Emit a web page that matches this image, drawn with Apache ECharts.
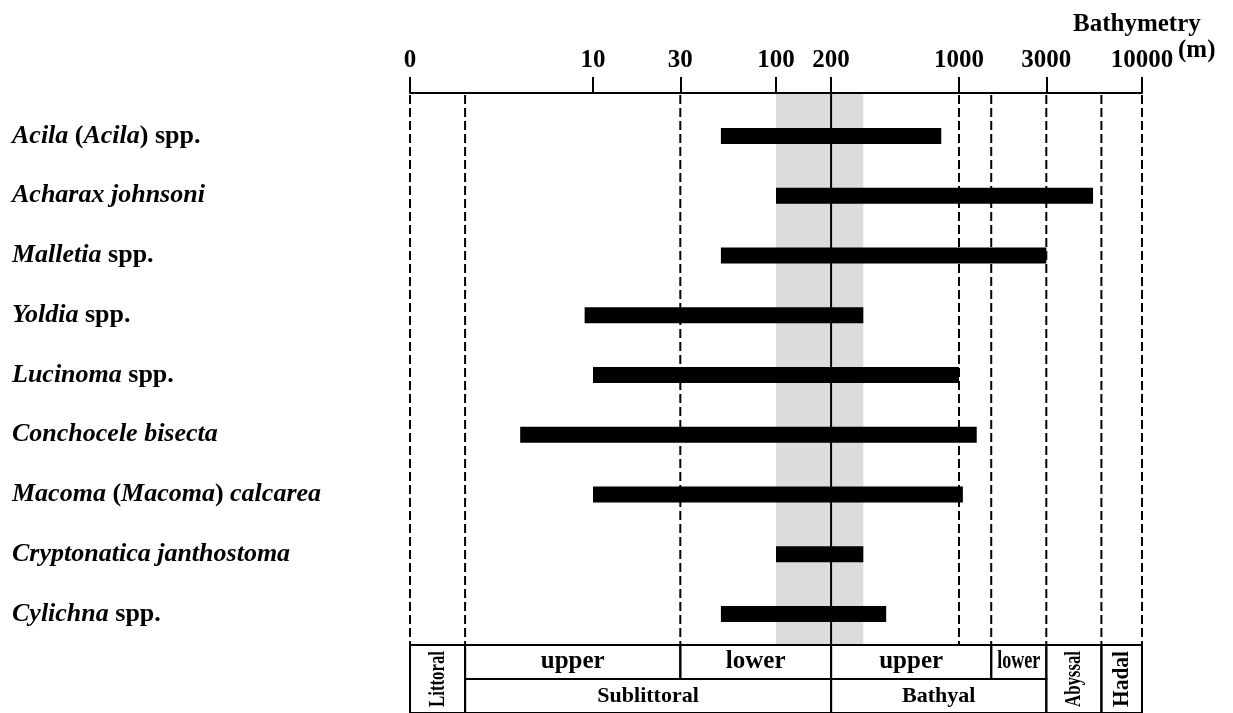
<!DOCTYPE html>
<html><head><meta charset="utf-8">
<script src="https://cdn.jsdelivr.net/npm/echarts@6/dist/echarts.min.js"></script>
<style>html,body{margin:0;padding:0;background:#fff}#c{width:1233px;height:713px}</style>
</head><body><div id="c"></div>
<script>
// ---- data ----
const species = ['Acila (Acila) spp.', 'Acharax johnsoni', 'Malletia spp.', 'Yoldia spp.', 'Lucinoma spp.',
  'Conchocele bisecta', 'Macoma (Macoma) calcarea', 'Cryptonatica janthostoma', 'Cylichna spp.'];
const depthFrom = [50, 100, 50, 9, 10, 4, 10, 100, 50];
const depthTo = [800, 5400, 3000, 300, 1000, 1250, 1050, 300, 400];
const tickValues = [1, 10, 30, 100, 200, 1000, 3000, 10000];
const tickLabels = ['0', '10', '30', '100', '200', '1000', '3000', '10000'];
const dashedBounds = [1, 2, 30, 1000, 1500, 3000, 6000, 10000];
const solidBounds = [200];
const greyBand = [100, 300];
const zoneNames = ['Littoral', 'upper', 'lower', 'Sublittoral', 'upper', 'lower', 'Bathyal', 'Abyssal', 'Hadal'];
const zoneFrom = [1, 2, 30, 2, 200, 1500, 200, 3000, 6000];
const zoneTo = [2, 30, 200, 200, 1500, 3000, 3000, 6000, 10000];
const zoneRowFrom = [0, 0, 0, 1, 0, 0, 1, 0, 0];
const zoneRowTo = [2, 1, 1, 2, 1, 1, 2, 2, 2];

// ---- chart ----
const SERIF = '"Liberation Serif", "Times New Roman", serif';
const mctx = document.createElement('canvas').getContext('2d');
function measure(text, size) { mctx.font = 'bold ' + size + 'px ' + SERIF; return mctx.measureText(text).width; }

const chart = echarts.init(document.getElementById('c'), null, {renderer: 'canvas'});
const gridBase = {left: 410, width: 732, outerBoundsMode: 'none', containLabel: false};
const logAxis = (gi, extra) => Object.assign({
  type: 'log', logBase: 10, min: 1, max: 10000, gridIndex: gi, show: false,
  splitLine: {show: false}
}, extra || {});

const option = {
  animation: false,
  backgroundColor: '#fff',
  grid: [
    Object.assign({top: 93, height: 552}, gridBase),
    Object.assign({top: 106, height: 538}, gridBase),
    Object.assign({top: 645, height: 68}, gridBase)
  ],
  xAxis: [
    logAxis(0, {
      show: true, position: 'top', z: 10,
      axisLine: {show: true, onZero: false, lineStyle: {color: '#000', width: 2}},
      axisTick: {show: true, inside: false, length: 16, customValues: tickValues, lineStyle: {color: '#000', width: 2}},
      minorTick: {show: false},
      axisLabel: {
        show: true, margin: 20, customValues: tickValues, color: '#000',
        fontFamily: SERIF, fontWeight: 'bold', fontSize: 25,
        formatter: v => tickLabels[tickValues.findIndex(t => Math.abs(t - v) < 1e-6 * t)] ?? String(v)
      }
    }),
    logAxis(1),
    logAxis(2)
  ],
  yAxis: [
    {type: 'value', gridIndex: 0, min: 0, max: 1, show: false},
    {
      type: 'category', gridIndex: 1, data: species, inverse: true,
      axisLine: {show: false}, axisTick: {show: false}, splitLine: {show: false},
      axisLabel: {
        show: true, interval: 0, align: 'left', margin: 398, color: '#000',
        fontFamily: SERIF, fontWeight: 'bold', fontSize: 26,
        formatter: v => v.split(/(\(|\)|spp\.)/).filter(s => s !== '').map(s =>
          (/^(\(|\)|spp\.)$/.test(s) || s.trim() === '') ? '{n|' + s + '}' : '{i|' + s + '}').join(''),
        rich: {
          i: {fontFamily: SERIF, fontWeight: 'bold', fontStyle: 'italic', fontSize: 26, color: '#000'},
          n: {fontFamily: SERIF, fontWeight: 'bold', fontSize: 26, color: '#000'}
        }
      }
    },
    {type: 'value', gridIndex: 2, min: 0, max: 2, inverse: true, show: false}
  ],
  graphic: [
    {type: 'text', left: 1073, top: 12, style: {text: 'Bathymetry', fontFamily: SERIF, fontWeight: 'bold', fontSize: 25, fill: '#000'}},
    {type: 'text', left: 1178, top: 38, style: {text: '(m)', fontFamily: SERIF, fontWeight: 'bold', fontSize: 25, fill: '#000'}}
  ],
  series: [
    { // grey band
      type: 'custom', xAxisIndex: 0, yAxisIndex: 0, z: 1, silent: true,
      data: [[greyBand[0], greyBand[1]]], encode: {x: [0, 1]},
      renderItem: (p, api) => {
        const a = api.coord([api.value(0), 0]), b = api.coord([api.value(1), 1]);
        return {type: 'rect', shape: {x: a[0], y: b[1], width: b[0] - a[0], height: a[1] - b[1]}, style: {fill: '#dcdcdc'}};
      }
    },
    { // dashed zone boundaries
      type: 'custom', xAxisIndex: 0, yAxisIndex: 0, z: 2, silent: true,
      data: dashedBounds.map(v => [v]), encode: {x: 0},
      renderItem: (p, api) => {
        const a = api.coord([api.value(0), 0]), b = api.coord([api.value(0), 1]);
        return {type: 'line', shape: {x1: b[0], y1: b[1] + 2, x2: a[0], y2: a[1]}, style: {stroke: '#000', lineWidth: 2, lineDash: [9, 4]}};
      }
    },
    { // solid boundary
      type: 'custom', xAxisIndex: 0, yAxisIndex: 0, z: 2, silent: true,
      data: solidBounds.map(v => [v]), encode: {x: 0},
      renderItem: (p, api) => {
        const a = api.coord([api.value(0), 0]), b = api.coord([api.value(0), 1]);
        return {type: 'line', shape: {x1: a[0], y1: a[1], x2: b[0], y2: b[1]}, style: {stroke: '#000', lineWidth: 2}};
      }
    },
    { // depth range bars
      type: 'custom', xAxisIndex: 1, yAxisIndex: 1, z: 3, silent: true,
      data: species.map((s, i) => [depthFrom[i], depthTo[i], i]), encode: {x: [0, 1], y: 2},
      renderItem: (p, api) => {
        const a = api.coord([api.value(0), api.value(2)]), b = api.coord([api.value(1), api.value(2)]);
        return {type: 'rect', shape: {x: a[0], y: a[1] - 8, width: b[0] - a[0], height: 16}, style: {fill: '#000'}};
      }
    },
    { // zone table
      type: 'custom', xAxisIndex: 2, yAxisIndex: 2, z: 3, silent: true,
      data: zoneNames.map((n, i) => [zoneFrom[i], zoneTo[i], zoneRowFrom[i], zoneRowTo[i], i]),
      encode: {x: [0, 1], y: [2, 3]},
      renderItem: (p, api) => {
        const i = api.value(4);
        const a = api.coord([api.value(0), api.value(2)]), b = api.coord([api.value(1), api.value(3)]);
        const x = a[0], y = a[1], w = b[0] - a[0], h = b[1] - a[1];
        const name = zoneNames[i];
        const rotated = (api.value(3) - api.value(2)) === 2 && w < 80;
        const fs = rotated ? 24 : (api.value(2) === 0 ? 25 : 22);
        const natural = measure(name, fs);
        const avail = (rotated ? h : w) - 12;
        const s = Math.min(1, avail / natural);
        return {type: 'group', children: [
          {type: 'rect', shape: {x: x, y: y, width: w, height: h}, style: {fill: 'none', stroke: '#000', lineWidth: 2}},
          {type: 'text', x: x + w / 2, y: y + h / 2, rotation: rotated ? Math.PI / 2 : 0, scaleX: s,
           style: {text: name, fontFamily: SERIF, fontWeight: 'bold', fontSize: fs, fill: '#000', align: 'center', verticalAlign: 'middle'}}
        ]};
      }
    }
  ]
};
chart.setOption(option);
</script></body></html>
